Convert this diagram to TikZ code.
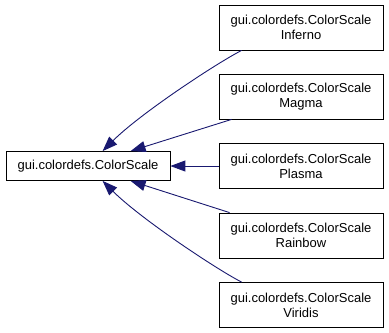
\documentclass[tikz,border=0pt]{standalone}
\usepackage{fontspec}
\setmainfont{Liberation Sans}
\usetikzlibrary{calc,arrows.meta}
\definecolor{edgeblue}{HTML}{191970}
\begin{document}
\begin{tikzpicture}[x=1bp,y=-1bp,
  classbox/.style={draw=black,line width=0.8bp,fill=white,inner sep=0pt,
    minimum width=164bp,align=center,font=\fontsize{13bp}{15bp}\selectfont},
  derived/.style={classbox,minimum height=45bp},
  inherit/.style={draw=edgeblue,line width=0.9bp,
    -{Triangle[length=15bp,width=11bp]},color=edgeblue}]
\useasboundingbox (0,0) rectangle (389,333);
\node[classbox,minimum height=29bp] (base) at (88,166) {gui.colordefs.ColorScale};
\node[derived] (inf) at (301,27.5) {gui.colordefs.ColorScale\\Inferno};
\node[derived] (mag) at (301,96.5) {gui.colordefs.ColorScale\\Magma};
\node[derived] (pla) at (301,166) {gui.colordefs.ColorScale\\Plasma};
\node[derived] (rai) at (301,235.5) {gui.colordefs.ColorScale\\Rainbow};
\node[derived] (vir) at (301,305) {gui.colordefs.ColorScale\\Viridis};
% inheritance edges, arrow tips on the base class
\draw[inherit] ($(inf.south west)+(23,0)$) .. controls ($(inf.south west)+(-4,14)$) and ($(base.north west)+(134,-37)$) .. ($(base.north west)+(97,0)$);
\draw[inherit] ($(mag.south west)+(13,0)$) -- ($(base.north west)+(125,0)$);
\draw[inherit] (pla.west) -- (base.east);
\draw[inherit] ($(rai.north west)+(11,0)$) -- ($(base.south west)+(125,0)$);
\draw[inherit] ($(vir.north west)+(23,0)$) .. controls ($(vir.north west)+(-4,-14)$) and ($(base.south west)+(134,37)$) .. ($(base.south west)+(97,0)$);
\end{tikzpicture}
\end{document}
